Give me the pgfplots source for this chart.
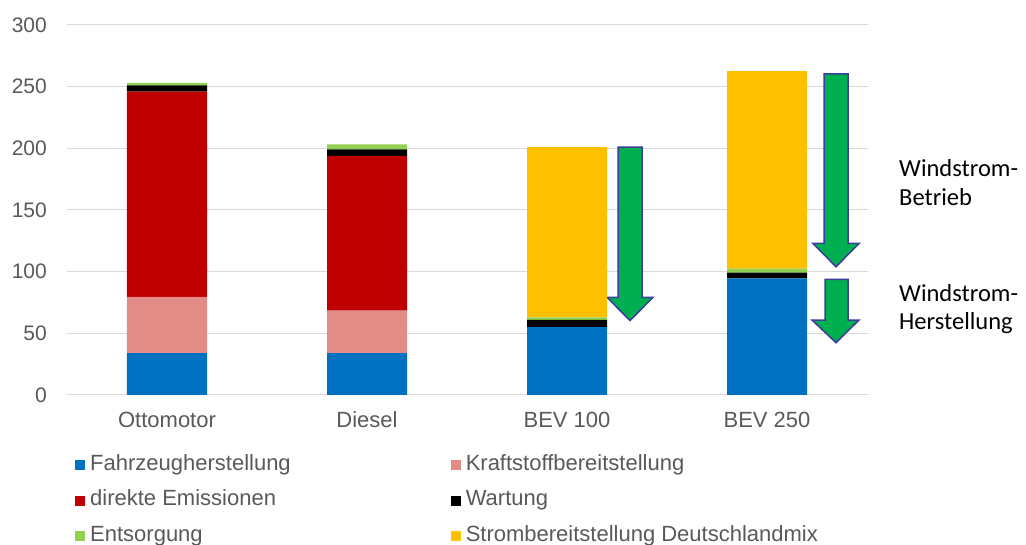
\documentclass[border=0pt]{standalone}
\usepackage{pgfplots}
\pgfplotsset{compat=1.18}
\usepackage{fontspec}
\setmainfont{Liberation Sans}
\newfontfamily\calibri{Carlito}
\definecolor{cBlue}{HTML}{0070C0}
\definecolor{cPink}{HTML}{E38B87}
\definecolor{cRed}{HTML}{C00000}
\definecolor{cGreen}{HTML}{92D050}
\definecolor{cYellow}{HTML}{FFC000}
\definecolor{arrowFill}{HTML}{00B050}
\definecolor{arrowLine}{HTML}{3C3C9C}
\definecolor{tickgray}{HTML}{595959}
\definecolor{gridgray}{HTML}{D9D9D9}
\begin{document}
\begin{tikzpicture}
\useasboundingbox (-67pt,-150pt) rectangle (959pt,395pt);
\begin{axis}[
  scale only axis,
  width=801pt, height=370pt,
  at={(0pt,0pt)}, anchor=south west,
  ybar stacked, bar width=80pt,
  xmin=-0.5, xmax=3.505,
  ymin=0, ymax=300,
  xtick={0,1,2,3},
  xticklabels={Ottomotor,Diesel,BEV 100,BEV 250},
  ytick={0,50,100,150,200,250,300},
  ymajorgrids,
  major grid style={draw=gridgray, line width=1pt},
  axis line style={draw=none},
  major tick length=0pt,
  /pgf/number format/assume math mode=true,
  tick label style={font=\fontsize{21}{25}\selectfont, text=tickgray, inner sep=0pt},
  yticklabel style={anchor=east, xshift=-20pt},
  xticklabel style={anchor=base, yshift=-33pt, font=\fontsize{22}{26}\selectfont},
  legend columns=2,
  legend style={
    at={(5pt,-58pt)}, anchor=north west,
    draw=none, fill=none,
    font=\fontsize{22}{26}\selectfont,
    text=tickgray,
    nodes={inner sep=0pt, text height=15pt, text depth=5pt},
    row sep=15.5pt,
    column sep=5pt,
    /tikz/column 2/.style={column sep=160pt},
  },
  legend cell align=left,
]
\addplot[fill=cBlue, draw=none, legend image code/.code={\fill[cBlue] (0pt,-5pt) rectangle (10pt,5pt);}]
  coordinates {(0,34) (1,34) (2,55) (3,94.6)};
\addlegendentry{Fahrzeugherstellung}
\addplot[fill=cPink, draw=none, legend image code/.code={\fill[cPink] (0pt,-5pt) rectangle (10pt,5pt);}]
  coordinates {(0,45.5) (1,34.4) (2,0) (3,0)};
\addlegendentry{Kraftstoffbereitstellung}
\addplot[fill=cRed, draw=none, legend image code/.code={\fill[cRed] (0pt,-5pt) rectangle (10pt,5pt);}]
  coordinates {(0,166.5) (1,125.4) (2,0) (3,0)};
\addlegendentry{direkte Emissionen}
\addplot[fill=black, draw=none, legend image code/.code={\fill[black] (0pt,-5pt) rectangle (10pt,5pt);}]
  coordinates {(0,5) (1,5.4) (2,6) (3,4.6)};
\addlegendentry{Wartung}
\addplot[fill=cGreen, draw=none, legend image code/.code={\fill[cGreen] (0pt,-5pt) rectangle (10pt,5pt);}]
  coordinates {(0,2) (1,4) (2,2) (3,3.3)};
\addlegendentry{Entsorgung}
\addplot[fill=cYellow, draw=none, legend image code/.code={\fill[cYellow] (0pt,-5pt) rectangle (10pt,5pt);}]
  coordinates {(0,0) (1,0) (2,138) (3,160)};
\addlegendentry{Strombereitstellung Deutschlandmix}
% arrows
\draw[fill=arrowFill, draw=arrowLine, line width=1.5pt, line join=miter]
  (axis cs:2.255,201) -- (axis cs:2.375,201) -- (axis cs:2.375,79.2) -- (axis cs:2.43,79.2)
  -- (axis cs:2.315,60.3) -- (axis cs:2.2,79.2) -- (axis cs:2.255,79.2) -- cycle;
\draw[fill=arrowFill, draw=arrowLine, line width=1.5pt, line join=miter]
  (axis cs:3.285,260.3) -- (axis cs:3.405,260.3) -- (axis cs:3.405,123) -- (axis cs:3.4615,123)
  -- (axis cs:3.345,104) -- (axis cs:3.2285,123) -- (axis cs:3.285,123) -- cycle;
\draw[fill=arrowFill, draw=arrowLine, line width=1.5pt, line join=miter]
  (axis cs:3.29,93.8) -- (axis cs:3.405,93.8) -- (axis cs:3.405,60.8) -- (axis cs:3.46,60.8)
  -- (axis cs:3.345,42.4) -- (axis cs:3.225,60.8) -- (axis cs:3.29,60.8) -- cycle;
\end{axis}
\begin{scope}[every node/.style={anchor=base west, inner sep=0pt, font=\calibri\fontsize{24.5}{29}\selectfont}]
\node at (832pt,218.3pt) {Windstrom-};
\node at (832pt,189pt) {Betrieb};
\node at (832pt,93.3pt) {Windstrom-};
\node at (832pt,65pt) {Herstellung};
\end{scope}
\end{tikzpicture}
\end{document}
